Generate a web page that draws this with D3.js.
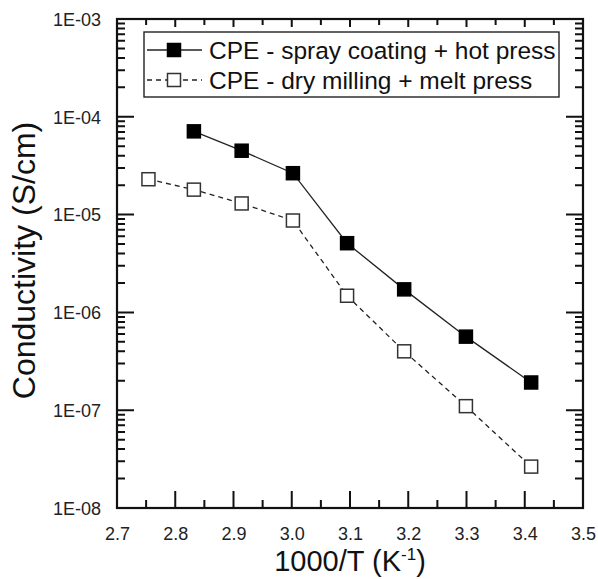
<!DOCTYPE html>
<html>
<head>
<meta charset="utf-8">
<script src="https://cdn.jsdelivr.net/npm/d3@7"></script>
<style>
  html, body { margin: 0; padding: 0; background: #fff; }
  svg { display: block; font-family: "Liberation Sans", Arial, sans-serif; }
</style>
</head>
<body>
<svg id="chart" width="598" height="579"></svg>
<script>
// Inverse temperature, 1000/T (K^-1)
const xHotPress  = [2.832, 2.914, 3.002, 3.095, 3.193, 3.299, 3.411];
const xMeltPress = [2.754, 2.832, 2.914, 3.002, 3.095, 3.193, 3.299, 3.411];
// Ionic conductivity (S/cm)
const sigmaHotPress  = [7.1e-5, 4.5e-5, 2.65e-5, 5.1e-6, 1.72e-6, 5.65e-7, 1.92e-7];
const sigmaMeltPress = [2.3e-5, 1.8e-5, 1.3e-5, 8.7e-6, 1.48e-6, 4.0e-7, 1.1e-7, 2.65e-8];
const seriesNames = ["CPE - spray coating + hot press", "CPE - dry milling + melt press"];
const xTicks = [2.7, 2.8, 2.9, 3.0, 3.1, 3.2, 3.3, 3.4, 3.5];
const yDecades = [1e-8, 1e-7, 1e-6, 1e-5, 1e-4, 1e-3];
const yTickLabels = ["1E-08", "1E-07", "1E-06", "1E-05", "1E-04", "1E-03"];

const svg = d3.select("#chart");
const plot = { left: 117, right: 583, top: 19, bottom: 508 };

const x = d3.scaleLinear().domain([2.7, 3.5]).range([plot.left, plot.right]);
const y = d3.scaleLog().domain([1e-8, 1e-3]).range([plot.bottom, plot.top]);

const xMinor = d3.range(2.75, 3.5, 0.1).map(v => +v.toFixed(2));
const yMinor = [];
yDecades.slice(0, -1).forEach(d => { for (let k = 2; k <= 9; k++) yMinor.push(d * k); });

const axisColor = "#111";

// tick labels from d3 axes
svg.append("g")
  .attr("transform", `translate(0,${plot.bottom})`)
  .call(d3.axisBottom(x).tickValues(xTicks).tickSize(0).tickPadding(0)
        .tickFormat(d3.format(".1f")))
  .call(g => g.select(".domain").remove())
  .call(g => g.selectAll("text").attr("y", 32).attr("dy", 0)
        .attr("font-size", 18).attr("fill", "#222")
        .attr("font-family", "'Liberation Sans', Arial, sans-serif"));

svg.append("g")
  .attr("transform", `translate(${plot.left},0)`)
  .call(d3.axisLeft(y).tickValues(yDecades).tickSize(0).tickPadding(0)
        .tickFormat((d, i) => yTickLabels[i]))
  .call(g => g.select(".domain").remove())
  .call(g => g.selectAll("text").attr("x", -16).attr("dy", "0.35em")
        .attr("font-size", 18).attr("fill", "#222")
        .attr("font-family", "'Liberation Sans', Arial, sans-serif"));

// axis titles
const xTitle = svg.append("text")
  .attr("x", (plot.left + plot.right) / 2).attr("y", 571)
  .attr("text-anchor", "middle").attr("font-size", 29).attr("fill", "#111");
xTitle.append("tspan").text("1000/T (K");
xTitle.append("tspan").attr("dy", -11).attr("font-size", 17).text("-1");
xTitle.append("tspan").attr("dy", 11).text(")");

svg.append("text")
  .attr("transform", `translate(35,${(plot.top + plot.bottom) / 2 - 3}) rotate(-90)`)
  .attr("text-anchor", "middle").attr("font-size", 32).attr("fill", "#111")
  .text("Conductivity (S/cm)");

// data
const sets = [
  { xs: xHotPress, ys: sigmaHotPress, dash: null, fill: "#000", stroke: "#000" },
  { xs: xMeltPress, ys: sigmaMeltPress, dash: "5,4", fill: "#fff", stroke: "#333" }
];
const linePath = d3.line().x(d => x(d[0])).y(d => y(d[1]));
const markerSize = 13;

sets.forEach(s => {
  const pts = s.xs.map((v, i) => [v, s.ys[i]]);
  svg.append("path")
    .datum(pts)
    .attr("d", linePath)
    .attr("fill", "none").attr("stroke", "#222").attr("stroke-width", 1.3)
    .attr("stroke-dasharray", s.dash);
  svg.append("g").selectAll("rect").data(pts).join("rect")
    .attr("x", d => x(d[0]) - markerSize / 2)
    .attr("y", d => y(d[1]) - markerSize / 2)
    .attr("width", markerSize).attr("height", markerSize)
    .attr("fill", s.fill).attr("stroke", s.stroke).attr("stroke-width", 1.5);
});

// legend
const legend = svg.append("g");
legend.append("rect")
  .attr("x", 144).attr("y", 32).attr("width", 415).attr("height", 65)
  .attr("fill", "#fff").attr("stroke", "#222").attr("stroke-width", 1.4);
sets.forEach((s, i) => {
  const cy = 50 + i * 30;
  legend.append("line")
    .attr("x1", 147).attr("x2", 202).attr("y1", cy).attr("y2", cy)
    .attr("stroke", "#222").attr("stroke-width", 1.3).attr("stroke-dasharray", s.dash);
  legend.append("rect")
    .attr("x", 174 - markerSize / 2).attr("y", cy - markerSize / 2)
    .attr("width", markerSize).attr("height", markerSize)
    .attr("fill", s.fill).attr("stroke", s.stroke).attr("stroke-width", 1.5);
  legend.append("text")
    .attr("x", 209).attr("y", cy).attr("dy", "0.36em")
    .attr("font-size", 24.5).attr("fill", "#111")
    .text(seriesNames[i]);
});

// inward-pointing tick marks on all four sides, one path per set
function xTickPath(values, yBase, len) {
  return values.map(v => `M${x(v)},${yBase}V${yBase + len}`).join("");
}
function yTickPath(values, xBase, len) {
  return values.map(v => `M${xBase},${y(v)}H${xBase + len}`).join("");
}
const tickPaths = [
  xTickPath(xTicks, plot.bottom, -17),
  xTickPath(xMinor, plot.bottom, -8),
  xTickPath(xTicks, plot.top, 8),
  xTickPath(xMinor, plot.top, 6),
  yTickPath(yDecades, plot.left, 17),
  yTickPath(yMinor, plot.left, 8),
  yTickPath(yDecades, plot.right, -17),
  yTickPath(yMinor, plot.right, -8)
];
svg.append("g").selectAll("path").data(tickPaths).join("path")
  .attr("d", d => d)
  .attr("fill", "none")
  .attr("stroke", axisColor)
  .attr("stroke-width", 2);

// frame
svg.append("rect")
  .attr("x", plot.left).attr("y", plot.top)
  .attr("width", plot.right - plot.left).attr("height", plot.bottom - plot.top)
  .attr("fill", "none").attr("stroke", axisColor).attr("stroke-width", 2.2);
</script>
</body>
</html>
